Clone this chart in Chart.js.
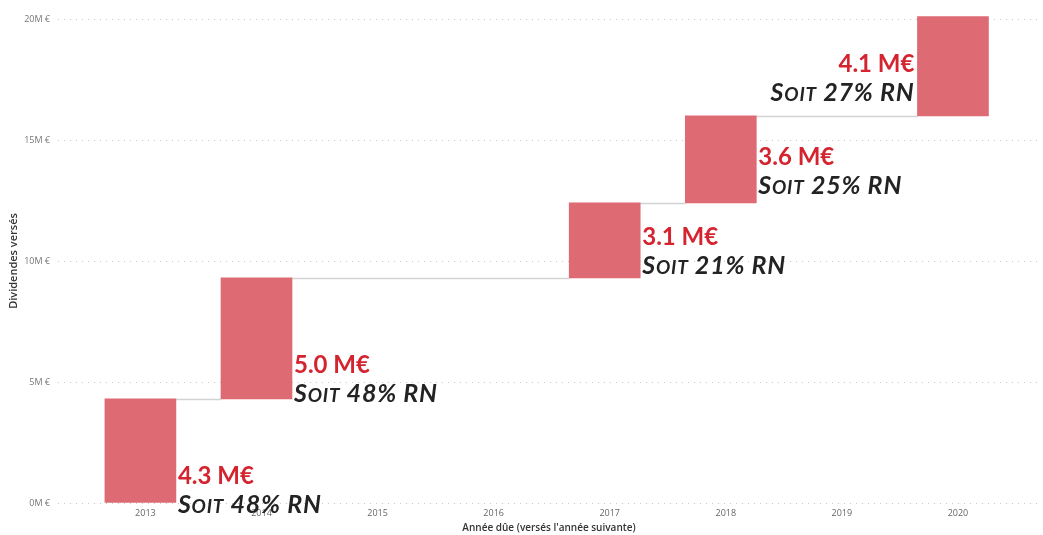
<!DOCTYPE html>
<html>
<head>
<meta charset="utf-8">
<script src="https://cdn.jsdelivr.net/npm/chart.js@4.4.1/dist/chart.umd.min.js"></script>
<style>
  html, body { margin: 0; padding: 0; background: #fff; }
  #wrap { width: 1043px; height: 535px; position: relative; }
</style>
</head>
<body>
<div id="wrap"><canvas id="chart"></canvas></div>
<script>
// Dividendes versés par année due (M€) et part du résultat net
const years      = ["2013", "2014", "2015", "2016", "2017", "2018", "2019", "2020"];
const dividends  = [4.3, 5.0, 0, 0, 3.1, 3.6, 0, 4.1];
const shareOfNet = [48, 48, null, null, 21, 25, null, 27];
const yTicks     = [0, 5, 10, 15, 20];

const BAR_COLOR  = "#de6a73";
const RED_TEXT   = "#d42430";
const DARK_TEXT  = "#232323";
const LABEL_FONT = "Lato, 'Open Sans', sans-serif";

// waterfall: each bar floats on the running total
let total = 0;
const bars = [];
const barInfo = [];
dividends.forEach((v, i) => {
  if (v > 0) {
    bars.push({ x: i, y: [total, total + v] });
    barInfo.push({ value: v, pct: shareOfNet[i], base: total });
  }
  total += v;
});

// connectors between bars + two-line labels
const waterfallExtras = {
  id: "waterfallExtras",
  beforeDatasetsDraw(c) {
    const meta = c.getDatasetMeta(0);
    const y = c.scales.y;
    const ctx = c.ctx;
    ctx.save();
    ctx.strokeStyle = "#d2d2d2";
    ctx.lineWidth = 1.5;
    for (let i = 0; i < meta.data.length - 1; i++) {
      const a = meta.data[i], b = meta.data[i + 1];
      const py = Math.round(y.getPixelForValue(bars[i].y[1])) + 0.5;
      ctx.beginPath();
      ctx.moveTo(a.x + a.width / 2, py);
      ctx.lineTo(b.x - b.width / 2, py);
      ctx.stroke();
    }
    ctx.restore();
  },
  afterDatasetsDraw(c) {
    const meta = c.getDatasetMeta(0);
    const y = c.scales.y;
    const ctx = c.ctx;
    ctx.save();
    ctx.textBaseline = "alphabetic";
    meta.data.forEach((el, i) => {
      const info = barInfo[i];
      const top = info.value.toFixed(1) + " M€";
      const parts = [
        { t: "S", f: "italic bold 25px " + LABEL_FONT },
        { t: "OIT", f: "italic bold 19px " + LABEL_FONT },
        { t: " " + info.pct + "% RN", f: "italic bold 25px " + LABEL_FONT }
      ];
      ctx.letterSpacing = "0px";
      ctx.font = "bold 24px " + LABEL_FONT;
      const topW = ctx.measureText(top).width;
      ctx.letterSpacing = "0.8px";
      let botW = 0;
      parts.forEach(p => { ctx.font = p.f; p.w = ctx.measureText(p.t).width; botW += p.w; });

      const right = el.x + el.width / 2 + 2;
      const onLeft = right + Math.max(topW, botW) > c.chartArea.right;
      const baseline = y.getPixelForValue(info.base * 1.062 + 0.8);
      const left = el.x - el.width / 2 - 3;

      ctx.letterSpacing = "0px";
      ctx.fillStyle = RED_TEXT;
      ctx.font = "bold 24px " + LABEL_FONT;
      ctx.textAlign = "left";
      ctx.fillText(top, onLeft ? left - topW : right, baseline);

      ctx.letterSpacing = "0.8px";
      ctx.fillStyle = DARK_TEXT;
      let x = onLeft ? left - botW : right;
      parts.forEach(p => {
        ctx.font = p.f;
        ctx.fillText(p.t, x, baseline + 29);
        x += p.w;
      });
    });
    ctx.restore();
  }
};

const ctx = document.getElementById("chart").getContext("2d");
new Chart(ctx, {
  type: "bar",
  data: {
    datasets: [{
      data: bars,
      backgroundColor: BAR_COLOR,
      borderWidth: 0,
      barThickness: 71,
      clip: false
    }]
  },
  options: {
    responsive: true,
    maintainAspectRatio: false,
    animation: false,
    layout: { padding: { top: 19, right: 3, bottom: 1, left: 0 } },
    plugins: { legend: { display: false }, tooltip: { enabled: false } },
    scales: {
      x: {
        type: "linear",
        offset: false,
        min: -0.71,
        max: 7.75,
        afterBuildTicks: s => { s.ticks = years.map((_, i) => ({ value: i })); },
        afterFit: s => { s.height = 31; },
        ticks: {
          callback: v => years[v],
          color: "#666",
          font: { size: 9, family: "'Open Sans', sans-serif" },
          padding: 5,
          labelOffset: 5,
          maxRotation: 0
        },
        grid: { display: false, drawTicks: false, offset: false },
        border: { display: false },
        title: {
          display: true,
          text: "Année dûe (versés l'année suivante)",
          color: "#333",
          font: { size: 10, family: "'Open Sans', sans-serif", weight: "600" },
          padding: { top: 0, bottom: 0 }
        }
      },
      y: {
        min: 0,
        max: 20,
        afterBuildTicks: s => { s.ticks = yTicks.map(v => ({ value: v })); },
        afterFit: s => { s.width = 58; },
        ticks: {
          callback: v => v + "M €",
          color: "#777",
          font: { size: 9, family: "'Open Sans', sans-serif" },
          padding: 8
        },
        grid: { color: "#c8c8c8", drawTicks: false, lineWidth: 1 },
        border: { display: false, dash: [1, 5] },
        title: {
          display: true,
          text: "Dividendes versés",
          color: "#333",
          font: { size: 11, family: "'Open Sans', sans-serif", weight: "600" },
          padding: { top: 7, bottom: 0 }
        }
      }
    }
  },
  plugins: [waterfallExtras]
});
</script>
</body>
</html>
